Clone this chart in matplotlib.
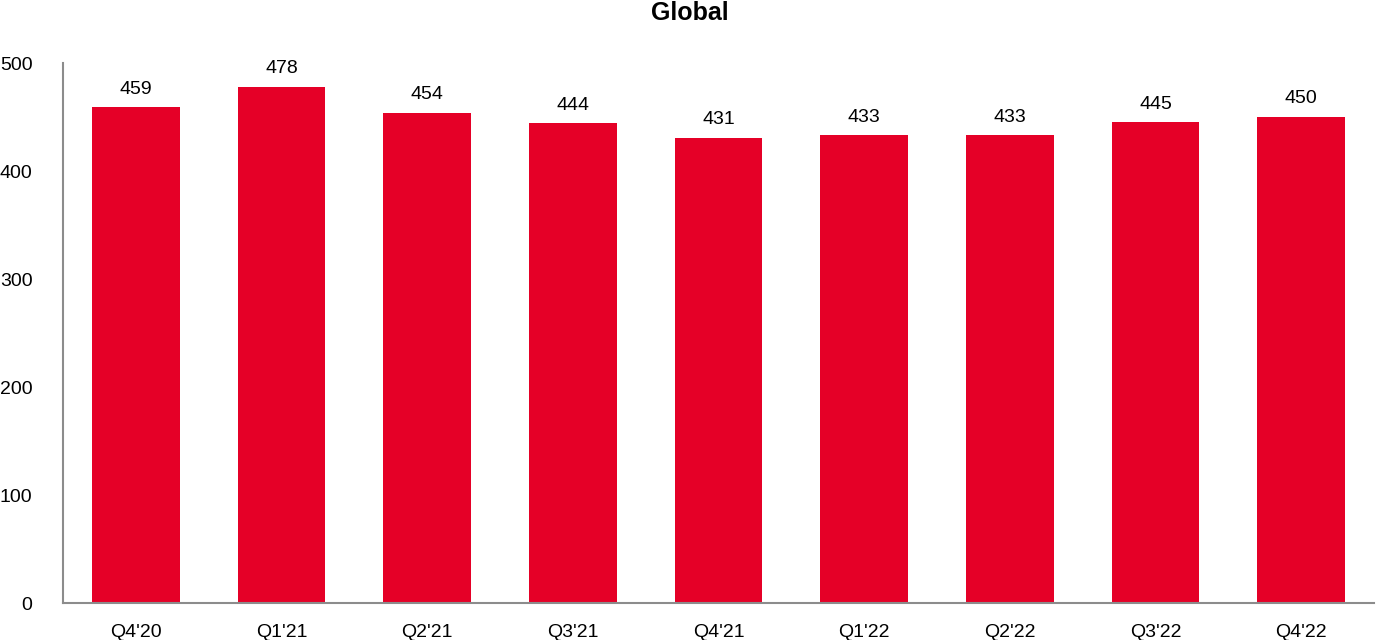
import matplotlib.pyplot as plt

plt.rcParams['font.family'] = ['Liberation Sans', 'DejaVu Sans']

quarters = ["Q4'20", "Q1'21", "Q2'21", "Q3'21", "Q4'21", "Q1'22", "Q2'22", "Q3'22", "Q4'22"]
values = [459, 478, 454, 444, 431, 433, 433, 445, 450]
yticks = [0, 100, 200, 300, 400, 500]

fig = plt.figure(figsize=(13.8, 6.4), dpi=100)
ax = fig.add_axes([63 / 1380, 37 / 640, 1311 / 1380, 540 / 640])

x = range(len(quarters))
bars = ax.bar(x, values, width=0.6, color='#E50027')
for xi, v in zip(x, values):
    ax.annotate(str(v), (xi, v), xytext=(0, 7), textcoords='offset points',
                ha='center', va='bottom', fontsize=14)

ax.set_xlim(-0.5, 8.5)
ax.set_ylim(0, 500)
ax.set_yticks(yticks)
ax.set_xticks(list(x))
ax.set_xticklabels(quarters)
ax.tick_params(axis='both', length=0, labelsize=14)
ax.tick_params(axis='y', pad=22)
ax.tick_params(axis='x', pad=15)
for s in ['top', 'right']:
    ax.spines[s].set_visible(False)
for s in ['left', 'bottom']:
    ax.spines[s].set_color('#8c8c8c')
    ax.spines[s].set_linewidth(1.5)

fig.text(0.5, 1 - 13 / 640, 'Global', ha='center', va='center', fontsize=18, fontweight='bold')

fig.savefig('out.png', dpi=100)
